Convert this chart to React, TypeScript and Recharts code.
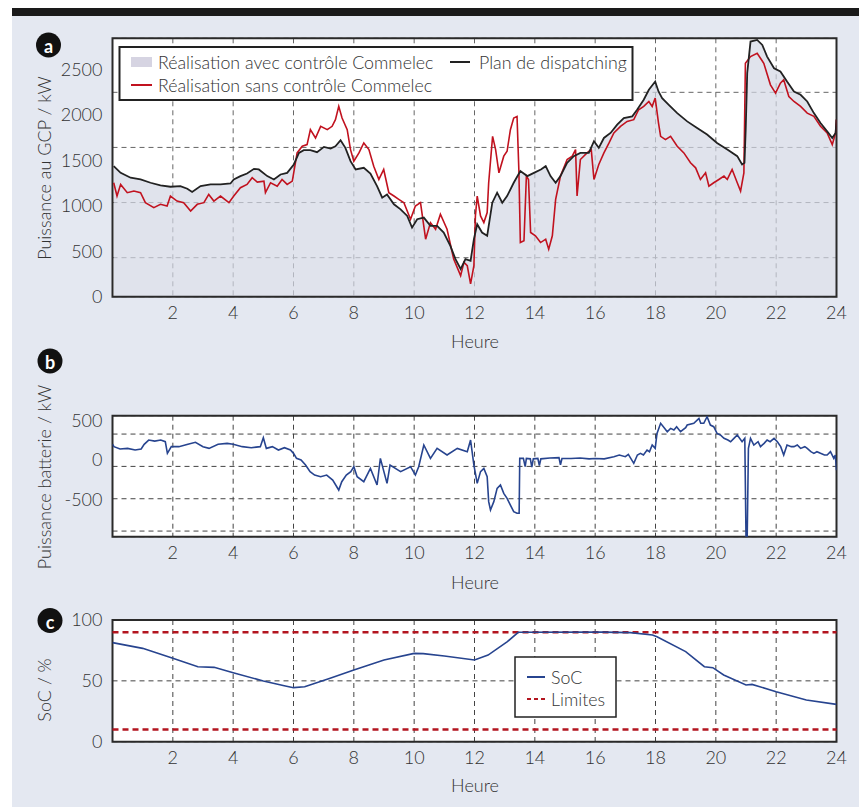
import { ComposedChart, Line, Area, XAxis, YAxis, CartesianGrid, ReferenceArea, ReferenceLine } from "recharts"

const FONT = "Lato, 'Open Sans', sans-serif"
const TEXT = "#333"

const hourTicks = [2, 4, 6, 8, 10, 12, 14, 16, 18, 20, 22, 24]

// (a) puissance au GCP, kW
const planHours = [0.04, 0.27, 0.6, 0.93, 1.26, 1.59, 1.92, 2.25, 2.48, 2.64, 2.92, 3.25, 3.58, 3.91, 4.02, 4.24, 4.46, 4.69, 4.85, 5.13, 5.35, 5.57, 5.79, 6.01, 6.18, 6.34, 6.56, 6.78, 7.01, 7.23, 7.39, 7.56, 7.72, 7.89, 8.06, 8.33, 8.55, 8.77, 8.94, 9.1, 9.33, 9.55, 9.77, 9.93, 10.1, 10.32, 10.54, 10.76, 10.98, 11.2, 11.37, 11.54, 11.7, 11.87, 11.98, 12.09, 12.25, 12.42, 12.59, 12.75, 12.92, 13.08, 13.3, 13.52, 13.75, 13.97, 14.2, 14.36, 14.52, 14.69, 14.85, 15.07, 15.29, 15.51, 15.79, 15.96, 16.12, 16.29, 16.51, 16.73, 16.95, 17.23, 17.39, 17.61, 17.78, 17.99, 18.1, 18.22, 18.44, 18.72, 19.05, 19.38, 19.71, 20.04, 20.38, 20.71, 20.87, 20.95, 20.99, 21.04, 21.15, 21.37, 21.54, 21.7, 21.93, 22.14, 22.36, 22.59, 22.81, 23.03, 23.25, 23.47, 23.69, 23.86, 23.97, 24.0]
const planKW = [1434, 1361, 1307, 1288, 1252, 1223, 1208, 1215, 1186, 1150, 1215, 1234, 1234, 1244, 1288, 1325, 1354, 1405, 1398, 1325, 1288, 1343, 1361, 1453, 1580, 1610, 1610, 1588, 1646, 1628, 1653, 1719, 1635, 1489, 1398, 1416, 1354, 1215, 1088, 1124, 1015, 960, 887, 759, 851, 869, 778, 778, 705, 559, 413, 304, 413, 395, 632, 796, 705, 669, 1033, 1143, 1033, 1106, 1252, 1380, 1325, 1361, 1398, 1434, 1325, 1252, 1325, 1471, 1544, 1580, 1580, 1708, 1635, 1744, 1799, 1890, 1963, 1981, 2054, 2164, 2273, 2364, 2255, 2182, 2108, 2017, 1926, 1853, 1781, 1689, 1616, 1544, 1453, 1471, 1835, 2456, 2803, 2821, 2766, 2638, 2510, 2474, 2364, 2255, 2218, 2145, 2017, 1908, 1817, 1744, 1799, 1945]

const sansHours = [0.04, 0.15, 0.27, 0.49, 0.71, 0.93, 1.09, 1.37, 1.59, 1.81, 1.92, 2.14, 2.36, 2.59, 2.81, 3.03, 3.19, 3.36, 3.58, 3.86, 4.02, 4.24, 4.46, 4.63, 4.8, 5.02, 5.07, 5.24, 5.46, 5.62, 5.79, 5.96, 6.12, 6.29, 6.45, 6.56, 6.73, 6.9, 7.12, 7.28, 7.39, 7.5, 7.61, 7.78, 7.89, 8.0, 8.17, 8.33, 8.5, 8.66, 8.83, 8.99, 9.16, 9.33, 9.49, 9.66, 9.88, 10.04, 10.21, 10.38, 10.54, 10.71, 10.87, 11.09, 11.31, 11.54, 11.65, 11.76, 11.87, 11.98, 12.03, 12.09, 12.2, 12.31, 12.42, 12.47, 12.6, 12.7, 12.81, 12.97, 13.08, 13.19, 13.3, 13.41, 13.47, 13.52, 13.64, 13.72, 13.79, 13.86, 14.02, 14.19, 14.36, 14.46, 14.58, 14.69, 14.85, 15.07, 15.24, 15.35, 15.4, 15.51, 15.73, 15.87, 15.96, 16.12, 16.29, 16.46, 16.62, 16.84, 17.06, 17.28, 17.44, 17.61, 17.78, 17.89, 17.99, 18.1, 18.17, 18.33, 18.5, 18.72, 18.94, 19.16, 19.33, 19.49, 19.66, 19.77, 19.93, 20.1, 20.27, 20.38, 20.54, 20.71, 20.82, 20.93, 20.98, 21.15, 21.37, 21.59, 21.81, 21.98, 22.14, 22.25, 22.42, 22.59, 22.81, 23.03, 23.25, 23.47, 23.69, 23.86, 23.97, 24.0]
const sansKW = [1252, 1106, 1234, 1143, 1161, 1143, 1033, 979, 1015, 997, 1106, 1051, 1033, 942, 1015, 1033, 1124, 1051, 1106, 1033, 1106, 1197, 1234, 1307, 1259, 1270, 1143, 1252, 1215, 1288, 1234, 1270, 1580, 1653, 1671, 1835, 1744, 1872, 1835, 1872, 1945, 2091, 1963, 1835, 1616, 1489, 1580, 1689, 1616, 1434, 1288, 1398, 1143, 1106, 1070, 1033, 851, 997, 1033, 632, 814, 741, 906, 741, 413, 231, 377, 340, 140, 340, 887, 1106, 887, 814, 924, 1252, 1762, 1616, 1361, 1544, 1598, 1835, 1963, 1981, 1398, 595, 614, 1325, 1288, 705, 669, 595, 632, 522, 669, 1070, 1325, 1507, 1544, 1616, 1106, 1507, 1580, 1616, 1288, 1453, 1580, 1689, 1799, 1872, 1926, 1945, 2054, 2091, 2145, 2091, 2182, 1908, 1762, 1726, 1762, 1653, 1580, 1471, 1416, 1288, 1361, 1215, 1252, 1288, 1325, 1288, 1398, 1252, 1161, 1361, 2565, 2638, 2675, 2565, 2328, 2237, 2346, 2383, 2200, 2145, 2091, 2017, 1981, 1872, 1799, 1671, 1799, 1945]

const gcpTicks = [0, 500, 1000, 1500, 2000, 2500]
const gcpGridTicks = [500, 1000, 1500, 2000]

// (b) puissance batterie, kW
const battHours = [0.0, 0.05, 0.25, 0.5, 0.75, 0.95, 1.05, 1.2, 1.4, 1.6, 1.75, 1.82, 1.95, 2.2, 2.5, 2.75, 3.0, 3.2, 3.5, 3.8, 4.0, 4.3, 4.6, 4.9, 5.0, 5.1, 5.3, 5.5, 5.7, 5.9, 6.0, 6.1, 6.25, 6.4, 6.55, 6.7, 6.9, 7.1, 7.3, 7.5, 7.6, 7.75, 7.9, 8.0, 8.11, 8.33, 8.55, 8.77, 8.88, 9.1, 9.2, 9.55, 9.88, 10.04, 10.15, 10.32, 10.54, 10.76, 11.09, 11.43, 11.76, 11.87, 11.98, 12.09, 12.2, 12.31, 12.42, 12.47, 12.53, 12.64, 12.75, 12.86, 12.97, 13.08, 13.19, 13.3, 13.41, 13.48, 13.5, 13.62, 13.68, 13.72, 13.85, 13.9, 13.95, 14.1, 14.15, 14.2, 14.5, 14.8, 14.85, 14.9, 15.2, 15.5, 15.8, 16.0, 16.3, 16.62, 16.8, 17.0, 17.1, 17.28, 17.4, 17.5, 17.6, 17.72, 17.8, 17.89, 17.99, 18.05, 18.17, 18.3, 18.39, 18.5, 18.61, 18.7, 18.83, 19.0, 19.05, 19.27, 19.44, 19.5, 19.6, 19.71, 19.82, 19.93, 20.04, 20.15, 20.27, 20.4, 20.49, 20.6, 20.71, 20.87, 20.96, 21.0, 21.04, 21.08, 21.15, 21.26, 21.4, 21.48, 21.6, 21.7, 21.8, 21.93, 22.04, 22.15, 22.25, 22.36, 22.5, 22.59, 22.7, 22.81, 22.95, 23.03, 23.15, 23.25, 23.35, 23.47, 23.6, 23.69, 23.8, 23.91, 23.96, 24.0]
const battKW = [200, 170, 140, 148, 127, 140, 200, 254, 240, 254, 233, 85, 170, 170, 200, 225, 170, 148, 200, 212, 200, 170, 157, 170, 284, 148, 170, 127, 157, 127, 85, 21, 0, -64, -148, -191, -212, -191, -255, -382, -276, -191, -148, -85, -212, -276, -106, -318, 21, -297, -64, -148, -85, -191, -85, 191, 21, 148, 64, 148, 106, 254, -64, -297, -148, -106, -212, -530, -636, -530, -361, -318, -424, -488, -573, -657, -678, -678, 21, 21, -85, 21, 15, -90, 15, 21, -70, 15, 25, 30, -60, 20, 20, 25, 15, 20, 15, 42, 64, 42, 72, -42, 64, 85, 64, 127, 106, 191, 148, 339, 467, 403, 360, 403, 382, 424, 360, 411, 445, 467, 530, 467, 467, 551, 445, 424, 339, 318, 276, 254, 233, 276, 318, 233, 276, -976, -976, 148, 276, 191, 233, 170, 212, 254, 233, 276, 233, 170, 64, 191, 170, 170, 191, 148, 170, 148, 106, 85, 106, 85, 64, 64, 106, 21, 64, -130]

const battTicks = [-500, 0, 500]
const battGridTicks = [-1000, -500, 0, 500]

// (c) état de charge, %
const socHours = [0, 1.0, 2.0, 2.83, 3.37, 4.0, 5.0, 5.73, 6.0, 6.37, 7.19, 8.0, 9.0, 10.0, 10.3, 11.0, 12.0, 12.45, 13.09, 13.45, 16.26, 17.17, 17.9, 18.05, 19.0, 19.62, 19.9, 20.26, 21.0, 21.2, 22.0, 23.0, 24.0]
const socPct = [81.4, 76.7, 68.5, 61.6, 61.1, 56.7, 49.9, 45.8, 44.4, 45.2, 52, 58.9, 67.1, 72.6, 72.4, 70.4, 67.1, 71.2, 82.2, 89.9, 90, 89.6, 87.7, 86.3, 74, 61.6, 60.8, 54.8, 46.6, 47.1, 41.1, 34.2, 30.7]
const socTicks = [0, 50, 100]
const socLimits = [10, 90]

const pts = (hours: number[], vals: number[]) => hours.map((t, i) => ({ t, v: vals[i] }))

const planData = pts(planHours, planKW)
const sansData = pts(sansHours, sansKW)
const battData = pts(battHours, battKW)
const socData = pts(socHours, socPct)

const W = 859
const PLOT_L = 112.5
const PLOT_R = 836.5
const Y_W = 60
const X_H = 30

const tickStyle = { fill: TEXT, fontSize: 18, fontFamily: FONT, fontWeight: 300 }

function Panel({ top, height, plotTop, plotBottom, domain, ticks, gridDomain, gridTicks, gridStroke, children }: any) {
  const margin = {
    top: plotTop - top,
    right: W - PLOT_R,
    bottom: top + height - plotBottom - X_H,
    left: PLOT_L - Y_W,
  }
  return (
    <div style={{ position: "absolute", left: 0, top, width: W, height }}>
      <ComposedChart width={W} height={height} margin={margin}>
        <XAxis type="number" dataKey="t" domain={[0, 24]} ticks={hourTicks} allowDataOverflow
          axisLine={false} tickLine={false} tickSize={8} tickMargin={2} height={X_H} tick={tickStyle} />
        <YAxis yAxisId="v" type="number" domain={domain} ticks={ticks} allowDataOverflow
          axisLine={false} tickLine={false} tickSize={0} tickMargin={10} width={Y_W} tick={tickStyle} />
        {/* the printed gridlines do not sit on the printed tick labels: separate hidden scale */}
        <YAxis yAxisId="g" orientation="right" width={0} type="number" domain={gridDomain} ticks={gridTicks} allowDataOverflow hide />
        <CartesianGrid yAxisId="g" stroke={gridStroke} strokeDasharray="5 4" fill="#fff" fillOpacity={1} />
        {children}
        <ReferenceArea yAxisId="v" x1={0} x2={24} y1={domain[0]} y2={domain[1]} fill="none" stroke="#2a2a2a" strokeWidth={2} ifOverflow="visible" />
      </ComposedChart>
    </div>
  )
}

function Badge({ x, y, letter }: { x: number; y: number; letter: string }) {
  return (
    <g>
      <circle cx={x} cy={y} r={12.5} fill="#111" />
      <text x={x} y={y + 1} textAnchor="middle" dominantBaseline="central" fill="#fff" fontSize={18} fontWeight={700} fontFamily={FONT}>{letter}</text>
    </g>
  )
}

function YTitle({ x, y, text }: { x: number; y: number; text: string }) {
  return (
    <text x={x} y={y} transform={`rotate(-90 ${x} ${y})`} textAnchor="middle" dominantBaseline="central" fill={TEXT} fontSize={18} fontWeight={300} fontFamily={FONT}>{text}</text>
  )
}

function XTitle({ y }: { y: number }) {
  return <text x={475} y={y} textAnchor="middle" dominantBaseline="central" fill={TEXT} fontSize={18} fontWeight={300} fontFamily={FONT}>Heure</text>
}

export default function App() {
  return (
    <div style={{ position: "absolute", left: 0, top: 0, width: W, height: 807, background: "#fff", overflow: "hidden" }}>
      <svg width={W} height={807} style={{ position: "absolute", left: 0, top: 0 }}>
        <rect x={12} y={16} width={W - 12} height={807 - 16} fill="#e4e8f1" />
        <rect x={12} y={8} width={W - 12} height={8} fill="#1a1a1a" />
        <Badge x={48.5} y={45} letter="a" />
        <Badge x={50} y={361} letter="b" />
        <Badge x={50} y={620.5} letter="c" />
        <YTitle x={44} y={168} text="Puissance au GCP / kW" />
        <YTitle x={44} y={477} text="Puissance batterie / kW" />
        <YTitle x={44} y={690} text="SoC / %" />
        <XTitle y={341} />
        <XTitle y={582} />
        <XTitle y={785} />
      </svg>

      <Panel top={0} height={360} plotTop={38.3} plotBottom={296.7} domain={[0, 2839]} ticks={gcpTicks}
        gridDomain={[146, 2490]} gridTicks={gcpGridTicks} gridStroke="#666">
        {/* the shaded "avec contrôle" realisation follows the dispatch plan in the figure */}
        <Area yAxisId="v" data={planData} dataKey="v" type="linear" stroke="none" fill="#d3d7e4" fillOpacity={0.7} isAnimationActive={false} />
        <Line yAxisId="v" data={sansData} dataKey="v" type="linear" stroke="#c1121f" strokeWidth={1.6} dot={false} isAnimationActive={false} />
        <Line yAxisId="v" data={planData} dataKey="v" type="linear" stroke="#222" strokeWidth={1.8} dot={false} isAnimationActive={false} />
      </Panel>

      <Panel top={380} height={220} plotTop={415.7} plotBottom={536.7} domain={[-976, 564]} ticks={battTicks}
        gridDomain={[-1087, 784]} gridTicks={battGridTicks} gridStroke="#444">
        <Line yAxisId="v" data={battData} dataKey="v" type="linear" stroke="#27448f" strokeWidth={1.6} dot={false} isAnimationActive={false} />
      </Panel>

      <Panel top={600} height={207} plotTop={620} plotBottom={741.7} domain={[0, 100]} ticks={socTicks}
        gridDomain={[0, 100]} gridTicks={[50]} gridStroke="#444">
        {socLimits.map((l) => (
          <ReferenceLine key={l} yAxisId="v" y={l} stroke="#b3151f" strokeWidth={2.5} strokeDasharray="6 4" />
        ))}
        <Line yAxisId="v" data={socData} dataKey="v" type="linear" stroke="#27448f" strokeWidth={1.6} dot={false} isAnimationActive={false} />
      </Panel>

      <svg width={W} height={807} style={{ position: "absolute", left: 0, top: 0, pointerEvents: "none" }}>
        <g fontFamily={FONT} fontSize={17.8} fontWeight={300} fill={TEXT}>
          <rect x={119.5} y={47} width={513} height={53} fill="#fff" stroke="#222" strokeWidth={2} />
          <rect x={131} y={57} width={21} height={10} fill="#d6d4e2" />
          <text x={158} y={62} dominantBaseline="central">Réalisation avec contrôle Commelec</text>
          <line x1={131} x2={152} y1={85} y2={85} stroke="#c1121f" strokeWidth={2} />
          <text x={158} y={85} dominantBaseline="central">Réalisation sans contrôle Commelec</text>
          <line x1={450} x2={470} y1={62} y2={62} stroke="#222" strokeWidth={2} />
          <text x={479} y={62} dominantBaseline="central">Plan de dispatching</text>

          <rect x={515} y={657} width={101} height={60} fill="#fff" stroke="#222" strokeWidth={1.5} />
          <line x1={527} x2={545} y1={677} y2={677} stroke="#27448f" strokeWidth={2} />
          <text x={551} y={677} dominantBaseline="central">SoC</text>
          <line x1={527} x2={545} y1={699} y2={699} stroke="#b3151f" strokeWidth={2} strokeDasharray="4 3" />
          <text x={551} y={699} dominantBaseline="central">Limites</text>
        </g>
      </svg>
    </div>
  )
}
